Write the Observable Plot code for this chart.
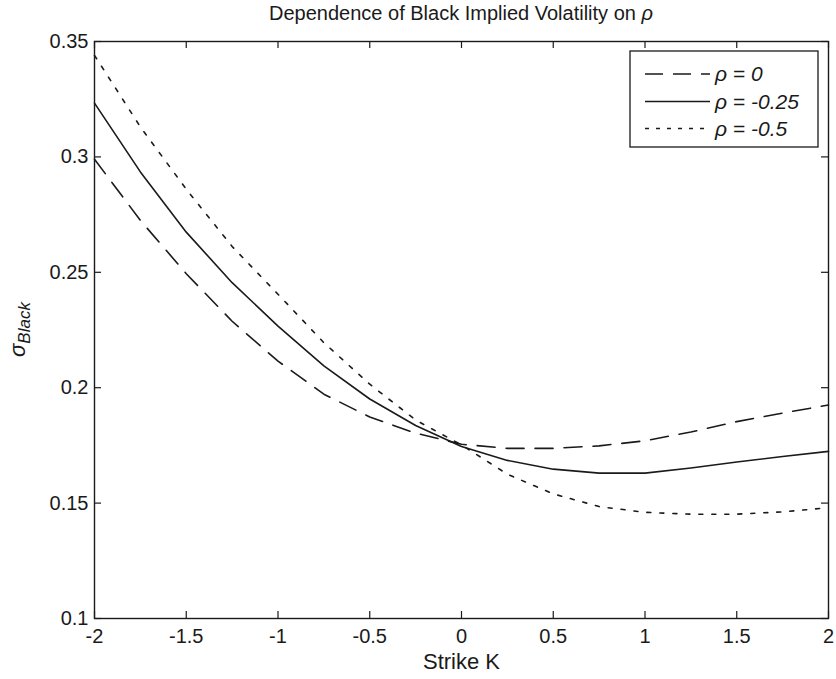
<!DOCTYPE html>
<html>
<head>
<meta charset="utf-8">
<script src="https://cdn.jsdelivr.net/npm/d3@7"></script>
<script src="https://cdn.jsdelivr.net/npm/@observablehq/plot@0.6"></script>
<style>
  html, body { margin: 0; padding: 0; background: #fff; }
  #chart svg { display: block; }
</style>
</head>
<body>
<div id="chart"></div>
<script>
// ---- data ----
const strikes = [-2, -1.75, -1.5, -1.25, -1, -0.75, -0.5, -0.25, 0, 0.25, 0.5, 0.75, 1, 1.25, 1.5, 1.75, 2];
const volRho0    = [0.299, 0.2725, 0.2494, 0.2288, 0.2115, 0.1972, 0.1873, 0.1803, 0.1755, 0.1737, 0.1737, 0.1748, 0.1770, 0.1808, 0.1853, 0.1890, 0.1925];
const volRhoM025 = [0.3233, 0.2935, 0.2674, 0.2455, 0.2267, 0.2095, 0.1951, 0.1836, 0.1745, 0.1685, 0.1647, 0.1630, 0.1630, 0.1652, 0.1678, 0.1702, 0.1724];
const volRhoM05  = [0.344, 0.3130, 0.2860, 0.2612, 0.2405, 0.2195, 0.2015, 0.1860, 0.1752, 0.1625, 0.1540, 0.1485, 0.1460, 0.1452, 0.1452, 0.1462, 0.1480];
const seriesNames = ["ρ = 0", "ρ = -0.25", "ρ = -0.5"];
const xTicks = [-2, -1.5, -1, -0.5, 0, 0.5, 1, 1.5, 2];
const xTickLabels = ["-2", "-1.5", "-1", "-0.5", "0", "0.5", "1", "1.5", "2"];
const yTicks = [0.1, 0.15, 0.2, 0.25, 0.3, 0.35];
const yTickLabels = ["0.1", "0.15", "0.2", "0.25", "0.3", "0.35"];
const titleText = "Dependence of Black Implied Volatility on ";
const xLabel = "Strike K";

// ---- layout ----
const W = 836, H = 679;
const mL = 94, mR = 8, mT = 41, mB = 61;
const fw = W - mL - mR, fh = H - mT - mB;
const tickLen = 7;
const ink = "#1a1a1a";
const font = "'Liberation Sans', Arial, Helvetica, sans-serif";

const mk = (vals) => strikes.map((k, i) => ({k, v: vals[i]}));
const dRho0 = mk(volRho0), dRho25 = mk(volRhoM025), dRho5 = mk(volRhoM05);
const styles = [
  {data: dRho0, dash: "18,11"},
  {data: dRho25, dash: null},
  {data: dRho5, dash: "4,9"}
];

const chart = Plot.plot({
  width: W, height: H,
  marginLeft: mL, marginRight: mR, marginTop: mT, marginBottom: mB,
  style: {fontFamily: font, fontSize: "20px", color: ink, background: "#fff", overflow: "visible"},
  x: {domain: [-2, 2]},
  y: {domain: [0.1, 0.35]},
  marks: [
    Plot.axisX({ticks: xTicks, tickFormat: d => xTickLabels[xTicks.indexOf(d)], tickSize: 0, tickPadding: 10, label: null, fontSize: 20, fill: ink}),
    Plot.axisY({ticks: yTicks, tickFormat: d => yTickLabels[yTicks.indexOf(d)], tickSize: 0, tickPadding: 6, label: null, fontSize: 20, fill: ink}),
    Plot.tickX(xTicks, {x: d => d, insetTop: fh - tickLen, stroke: ink, strokeWidth: 1.2}),
    Plot.tickX(xTicks, {x: d => d, insetBottom: fh - tickLen, stroke: ink, strokeWidth: 1.2}),
    Plot.tickY(yTicks, {y: d => d, insetRight: fw - tickLen, stroke: ink, strokeWidth: 1.2}),
    Plot.tickY(yTicks, {y: d => d, insetLeft: fw - tickLen, stroke: ink, strokeWidth: 1.2}),
    ...styles.map(s => Plot.line(s.data, {x: "k", y: "v", stroke: ink, strokeWidth: 1.6, strokeDasharray: s.dash})),
    Plot.frame({stroke: ink, strokeWidth: 1.4}),
    Plot.text([xLabel], {frameAnchor: "bottom", dy: 43, lineAnchor: "middle", fontSize: 22, fill: ink})
  ]
});

document.getElementById("chart").appendChild(chart);

// title with italic rho
const svg = d3.select(chart);
const t = svg.append("text")
  .attr("x", mL + fw / 2).attr("y", 20)
  .attr("text-anchor", "middle")
  .attr("font-family", font).attr("font-size", 20).attr("fill", ink);
t.append("tspan").text(titleText);
t.append("tspan").attr("font-style", "italic").text("ρ");

// y label sigma_Black
const yl = svg.append("text")
  .attr("transform", `translate(25,${mT + fh / 2}) rotate(-90)`)
  .attr("text-anchor", "middle")
  .attr("font-family", font).attr("fill", ink);
yl.append("tspan").attr("font-size", 22).attr("font-style", "italic").text("σ");
yl.append("tspan").attr("font-size", 17).attr("font-style", "italic").attr("dy", 5).text("Black");

// legend
const lg = svg.append("g");
const bx = 630, by = 51, bw = 188, bh = 96;
lg.append("rect").attr("x", bx).attr("y", by).attr("width", bw).attr("height", bh)
  .attr("fill", "#fff").attr("stroke", ink).attr("stroke-width", 1.3);
const rowY = [74, 101.5, 128.5];
const legDash = ["18,10", null, "4,7"];
seriesNames.forEach((name, i) => {
  lg.append("line").attr("x1", bx + 15).attr("x2", bx + 80)
    .attr("y1", rowY[i]).attr("y2", rowY[i])
    .attr("stroke", ink).attr("stroke-width", 1.6)
    .attr("stroke-dasharray", legDash[i]);
  lg.append("text").attr("x", bx + 85).attr("y", rowY[i] + 7)
    .attr("text-anchor", "start")
    .attr("font-family", font).attr("font-size", 21).attr("font-style", "italic")
    .attr("fill", ink).text(name);
});
</script>
</body>
</html>
